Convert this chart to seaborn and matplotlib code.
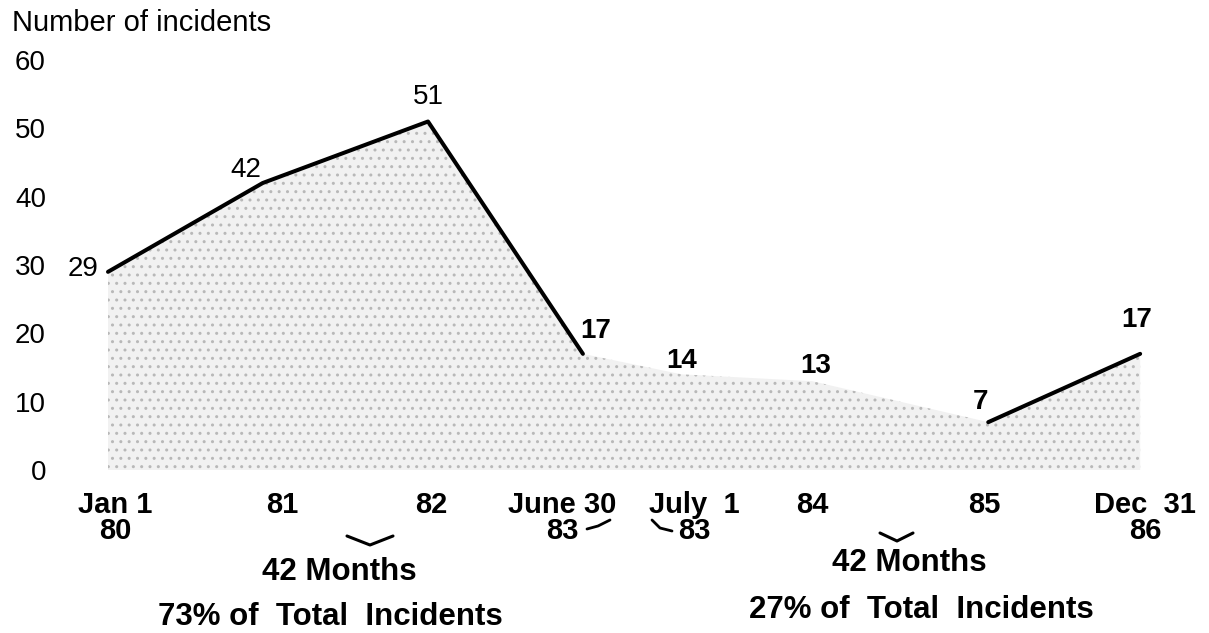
import pandas as pd
import matplotlib
matplotlib.use('Agg')
import matplotlib.pyplot as plt
import seaborn as sns
from matplotlib.lines import Line2D

# Incidents per period, Jan 1980 - Dec 1986
periods = ['Jan 1 80', '81', '82', 'June 30 83', 'July 1 83', '84', '85', 'Dec 31 86']
incidents = [29, 42, 51, 17, 14, 13, 7, 17]
# position of each period along the (hand drawn, non-linear) time axis
x_pos = [0.0, 1.09, 2.254, 3.345, 4.04, 4.96, 6.2, 7.27]
# which stretches of the trend line are drawn (0 = not drawn)
segment = [1, 1, 1, 1, 0, 0, 2, 2]

tick_pos = [0.05, 1.225, 2.275, 3.197, 4.127, 4.958, 6.169, 7.303]
tick_labels = ['Jan 1\n80', '81', '82', 'June 30\n83', 'July  1\n83', '84', '85', 'Dec  31\n86']

y_ticks = [0, 10, 20, 30, 40, 50, 60]

df = pd.DataFrame({'period': periods, 'x': x_pos, 'incidents': incidents, 'segment': segment})

sns.set_style('white')
plt.rcParams['font.family'] = ['Liberation Sans', 'DejaVu Sans']
plt.rcParams['text.color'] = 'black'
plt.rcParams['xtick.color'] = 'black'
plt.rcParams['ytick.color'] = 'black'

W, H = 1209, 633
fig = plt.figure(figsize=(W / 100, H / 100), dpi=100)
ax = fig.add_axes([0.0541, 0.2575, 0.9277, 0.6477])

# stippled area under the curve
ax.fill_between(df['x'], df['incidents'], 0, facecolor='#f1f1f1', edgecolor='#b8b8b8',
                hatch='..', linewidth=0, zorder=1)

sns.lineplot(data=df[df['segment'] > 0], x='x', y='incidents', units='segment',
             estimator=None, color='black', linewidth=2.9, ax=ax, zorder=3)

# value labels
offsets = [(-25, 3), (-17, 13), (0, 25), (13, 23), (0, 13), (4, 15), (-8, 20), (-3, 34)]
for i, row in df.iterrows():
    ax.annotate(str(row['incidents']), (row['x'], row['incidents']),
                xytext=offsets[i], textcoords='offset pixels',
                ha='center', va='center', fontsize=20,
                fontweight='normal' if i < 3 else 'bold')

ax.set_xlim(-0.3, 7.6)
ax.set_ylim(0, 60)
ax.set_yticks(y_ticks)
ax.set_yticklabels([str(v) for v in y_ticks], fontsize=20)
ax.set_xticks(tick_pos)
ax.set_xticklabels(tick_labels, fontsize=21, fontweight='bold', linespacing=0.9)
ax.tick_params(axis='y', length=0, pad=14)
ax.tick_params(axis='x', length=0, pad=15)
ax.set_xlabel('')
ax.set_ylabel('')
sns.despine(ax=ax, left=True, bottom=True)

fig.text(12 / W, 1 - 23 / H, 'Number of incidents', fontsize=21, va='center', ha='left')


def px_line(xs, ys, lw=2.2):
    fig.add_artist(Line2D([x / W for x in xs], [1 - y / H for y in ys], color='black', lw=lw))


# braces under each 42-month period, hooks joining the two "83"s
px_line([347, 370, 393], [536, 545, 536])
px_line([880, 897, 913], [533, 541, 533])
px_line([587, 598, 610], [529, 526, 520], lw=2)
px_line([652, 660, 672], [520, 528, 531], lw=2)

fig.text(339 / W, 1 - 572 / H, '42 Months', fontsize=22.5, fontweight='bold', ha='center', va='center')
fig.text(330 / W, 1 - 617 / H, '73% of  Total  Incidents', fontsize=22.5, fontweight='bold',
         ha='center', va='center')
fig.text(909 / W, 1 - 563 / H, '42 Months', fontsize=22.5, fontweight='bold', ha='center', va='center')
fig.text(921 / W, 1 - 610 / H, '27% of  Total  Incidents', fontsize=22.5, fontweight='bold',
         ha='center', va='center')

fig.savefig('out.png', dpi=100)
